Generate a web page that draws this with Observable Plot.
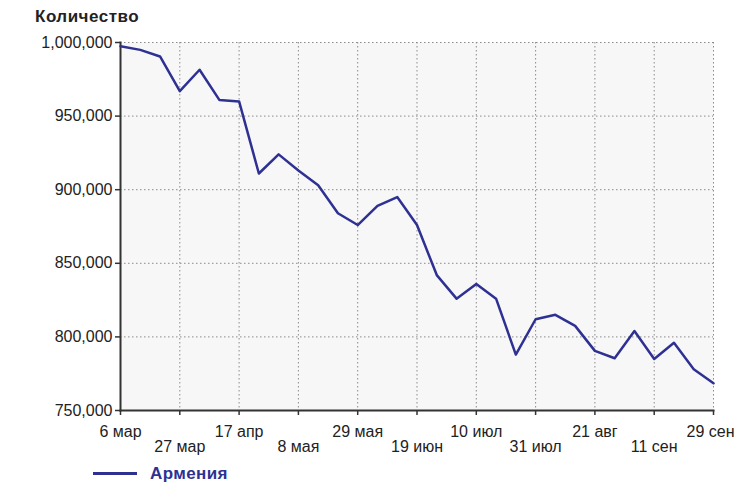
<!DOCTYPE html>
<html>
<head>
<meta charset="utf-8">
<script src="https://cdn.jsdelivr.net/npm/d3@7"></script>
<script src="https://cdn.jsdelivr.net/npm/@observablehq/plot@0.6"></script>
<style>
  html, body { margin: 0; padding: 0; background: #fff; }
  body { width: 735px; height: 486px; overflow: hidden; font-family: "Liberation Sans", Arial, sans-serif; }
  #title { height: 21px; padding-top: 6px; padding-left: 35px; font-size: 17px; font-weight: bold; color: #222; line-height: 21px; letter-spacing: 0.5px; }
  #legend { height: 22px; position: relative; }
  #legend .sw { position: absolute; left: 93px; top: 9px; width: 44px; height: 3px; background: #2e3192; }
  #legend .lb { position: absolute; left: 150px; top: 0; line-height: 22px; font-size: 17px; font-weight: bold; color: #2e3192; letter-spacing: 0.4px; }
</style>
</head>
<body>
<div id="title">Количество</div>
<div id="chart"></div>
<div id="legend"><div class="sw"></div><div class="lb">Армения</div></div>
<script>
const dates = ["6 мар","13 мар","20 мар","27 мар","3 апр","10 апр","17 апр","24 апр","1 мая","8 мая",
  "15 мая","22 мая","29 мая","5 июн","12 июн","19 июн","26 июн","3 июл","10 июл","17 июл",
  "24 июл","31 июл","7 авг","14 авг","21 авг","28 авг","4 сен","11 сен","18 сен","25 сен","29 сен"];
const values = [997500,995000,990500,967000,981500,961000,960000,911000,924000,913000,
  903000,884000,876000,889000,895000,876000,842000,826000,836000,826000,
  788000,812000,815000,807500,790500,785500,804000,785000,796000,778000,768500];
const tickUpper = ["6 мар","17 апр","29 мая","10 июл","21 авг"];
const tickLast = ["29 сен"];
const tickLower = ["27 мар","8 мая","19 июн","31 июл","11 сен"];
const yTicks = [750000,800000,850000,900000,950000,1000000];
const seriesName = "Армения";

const data = dates.map((d, i) => ({date: d, value: values[i], series: seriesName}));
const allTicks = [...tickUpper, ...tickLast, ...tickLower];

const chart = Plot.plot({
  width: 735,
  height: 436,
  marginTop: 15,
  marginBottom: 53,
  marginLeft: 120,
  marginRight: 22,
  style: {fontFamily: "'Liberation Sans', Arial, sans-serif", fontSize: "16px", color: "#222", background: "#fff"},
  x: {type: "point", domain: dates, padding: 0, round: false, range: [120, 713]},
  y: {domain: [750000, 1000000], range: [383, 15]},
  marks: [
    Plot.frame({fill: "#f7f7f7", stroke: null}),
    Plot.gridY(yTicks, {stroke: "#8a8a8a", strokeOpacity: 1, strokeDasharray: "1.5,2.5"}),
    Plot.gridX(allTicks, {stroke: "#8a8a8a", strokeOpacity: 1, strokeDasharray: "1.5,2.5"}),
    Plot.axisY(yTicks, {tickFormat: d3.format(","), tickSize: 5, tickPadding: 3, label: null, stroke: "#333", strokeWidth: 1.5}),
    Plot.axisX(tickUpper, {tickSize: 5, tickPadding: 10, label: null, stroke: "#333", strokeWidth: 1.5}),
    Plot.axisX(tickLast, {tickSize: 5, tickFormat: () => "", label: null, stroke: "#333", strokeWidth: 1.5}),
    Plot.axisX(tickLast, {tickSize: 0, tickPadding: 15, label: null, textAnchor: "end", dx: 21}),
    Plot.axisX(tickLower, {tickSize: 5, tickPadding: 25, label: null, stroke: "#333", strokeWidth: 1.5}),
    Plot.frame({anchor: "left", stroke: "#333", strokeWidth: 2}),
    Plot.frame({anchor: "bottom", stroke: "#333", strokeWidth: 2}),
    Plot.line(data, {x: "date", y: "value", stroke: "#2e3192", strokeWidth: 2.5, strokeLinejoin: "round"})
  ]
});
document.getElementById("chart").appendChild(chart);
</script>
</body>
</html>
